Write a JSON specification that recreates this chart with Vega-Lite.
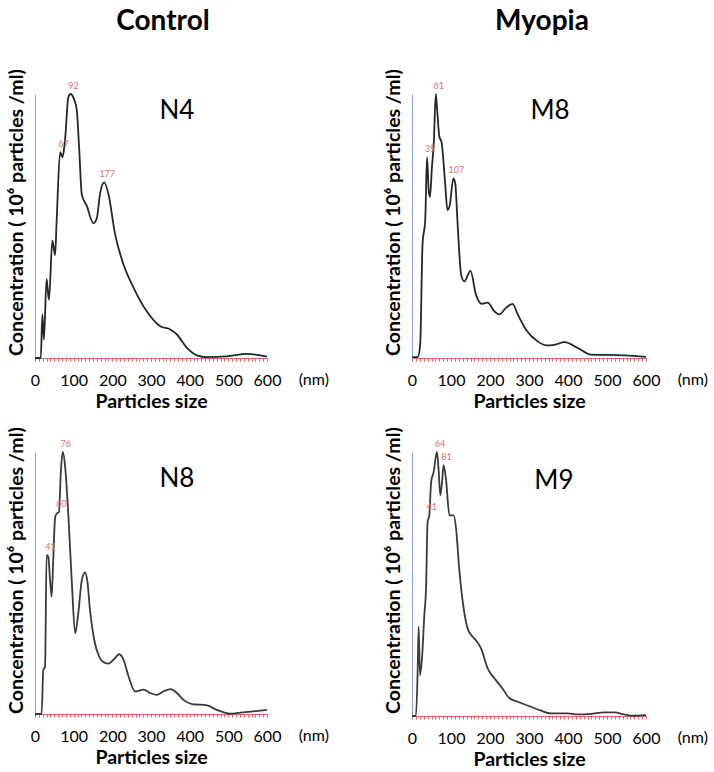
{
  "$schema": "https://vega.github.io/schema/vega-lite/v6.json",
  "padding": {"left": 5, "top": 7, "right": 2, "bottom": 2},
  "background": "white",
  "config": {
    "font": "Lato",
    "view": {"stroke": null},
    "axisX": {"labelFlush": false, "labelOverlap": false, "domainColor": "#e06464", "tickColor": "#e06464", "tickSize": 3, "tickWidth": 1, "grid": false, "labelFontSize": 16, "labelPadding": 11, "labelColor": "#000", "titleFontSize": 19.5, "titleFontWeight": "bold", "titlePadding": 4, "titleColor": "#000", "labelExpr": "datum.value % 100 === 0 ? datum.label : ''"},
    "axisY": {"labels": false, "ticks": false, "grid": false, "domainColor": "#8ea2e6", "titleFontSize": 19.5, "titleFontWeight": "bold", "titlePadding": 9, "titleColor": "#000", "titleY": 118},
    "title": {"fontSize": 28, "fontWeight": "bold", "color": "#000", "frame": "group", "anchor": "middle"}
  },
  "datasets": {
    "curves": [
      {"panel":"N4","size":0,"conc":0},{"panel":"N4","size":15,"conc":0},{"panel":"N4","size":19,"conc":16.5},{"panel":"N4","size":23,"conc":7},{"panel":"N4","size":30,"conc":30},{"panel":"N4","size":36,"conc":22},{"panel":"N4","size":45,"conc":44.5},{"panel":"N4","size":52,"conc":39},{"panel":"N4","size":56,"conc":52},{"panel":"N4","size":65,"conc":78},{"panel":"N4","size":71,"conc":76},{"panel":"N4","size":75,"conc":79},{"panel":"N4","size":79,"conc":85},{"panel":"N4","size":86,"conc":98.7},{"panel":"N4","size":92,"conc":100},{"panel":"N4","size":101,"conc":98},{"panel":"N4","size":108,"conc":94},{"panel":"N4","size":114,"conc":80},{"panel":"N4","size":121,"conc":62},{"panel":"N4","size":134,"conc":57.6},{"panel":"N4","size":151,"conc":51},{"panel":"N4","size":160,"conc":53},{"panel":"N4","size":168,"conc":62},{"panel":"N4","size":179,"conc":66.5},{"panel":"N4","size":190,"conc":62},{"panel":"N4","size":207,"conc":47},{"panel":"N4","size":229,"conc":35.4},{"panel":"N4","size":255,"conc":26.6},{"panel":"N4","size":289,"conc":17.7},{"panel":"N4","size":324,"conc":12},{"panel":"N4","size":350,"conc":10.8},{"panel":"N4","size":367,"conc":8.9},{"panel":"N4","size":393,"conc":3.8},{"panel":"N4","size":419,"conc":1},{"panel":"N4","size":445,"conc":0.3},{"panel":"N4","size":496,"conc":0.6},{"panel":"N4","size":548,"conc":1.6},{"panel":"N4","size":583,"conc":1},{"panel":"N4","size":600,"conc":0.5},
      {"panel":"M8","size":0,"conc":0.3},{"panel":"M8","size":14.5,"conc":0.3},{"panel":"M8","size":21,"conc":5},{"panel":"M8","size":27,"conc":43},{"panel":"M8","size":34,"conc":52.5},{"panel":"M8","size":38.5,"conc":76},{"panel":"M8","size":43,"conc":63},{"panel":"M8","size":46,"conc":61},{"panel":"M8","size":51,"conc":72},{"panel":"M8","size":56,"conc":82},{"panel":"M8","size":61,"conc":100},{"panel":"M8","size":64,"conc":95},{"panel":"M8","size":70,"conc":84},{"panel":"M8","size":76,"conc":81.6},{"panel":"M8","size":85,"conc":66},{"panel":"M8","size":91,"conc":56},{"panel":"M8","size":97,"conc":58},{"panel":"M8","size":106,"conc":68},{"panel":"M8","size":111,"conc":66},{"panel":"M8","size":117,"conc":50.6},{"panel":"M8","size":126,"conc":31.6},{"panel":"M8","size":134,"conc":29},{"panel":"M8","size":150,"conc":33},{"panel":"M8","size":164,"conc":24},{"panel":"M8","size":179,"conc":20.5},{"panel":"M8","size":194,"conc":21},{"panel":"M8","size":211,"conc":17.7},{"panel":"M8","size":224,"conc":16.5},{"panel":"M8","size":241,"conc":19},{"panel":"M8","size":258,"conc":20.5},{"panel":"M8","size":271,"conc":16.5},{"panel":"M8","size":292,"conc":10.8},{"panel":"M8","size":322,"conc":6.3},{"panel":"M8","size":344,"conc":4.8},{"panel":"M8","size":365,"conc":5},{"panel":"M8","size":391,"conc":6},{"panel":"M8","size":425,"conc":3.8},{"panel":"M8","size":459,"conc":1.3},{"panel":"M8","size":544,"conc":1},{"panel":"M8","size":600,"conc":0.4},
      {"panel":"N8","size":0,"conc":0},{"panel":"N8","size":17,"conc":0},{"panel":"N8","size":21.6,"conc":16.9},{"panel":"N8","size":26,"conc":18},{"panel":"N8","size":30,"conc":60.7},{"panel":"N8","size":34.5,"conc":60},{"panel":"N8","size":39,"conc":51},{"panel":"N8","size":43,"conc":44.8},{"panel":"N8","size":47.5,"conc":60},{"panel":"N8","size":52,"conc":75},{"panel":"N8","size":56,"conc":76.5},{"panel":"N8","size":62,"conc":77},{"panel":"N8","size":67,"conc":93},{"panel":"N8","size":72,"conc":100},{"panel":"N8","size":78,"conc":94.3},{"panel":"N8","size":86,"conc":76.5},{"panel":"N8","size":95,"conc":51},{"panel":"N8","size":104,"conc":30.8},{"panel":"N8","size":112,"conc":38.5},{"panel":"N8","size":121,"conc":51},{"panel":"N8","size":129.5,"conc":54},{"panel":"N8","size":136,"conc":50},{"panel":"N8","size":142,"conc":40},{"panel":"N8","size":148,"conc":33},{"panel":"N8","size":155,"conc":27},{"panel":"N8","size":163,"conc":23},{"panel":"N8","size":175,"conc":20},{"panel":"N8","size":190,"conc":19.2},{"panel":"N8","size":203,"conc":20.7},{"panel":"N8","size":218,"conc":22.8},{"panel":"N8","size":229,"conc":20.7},{"panel":"N8","size":242,"conc":14.3},{"panel":"N8","size":259,"conc":8.6},{"panel":"N8","size":281,"conc":9.3},{"panel":"N8","size":298,"conc":8},{"panel":"N8","size":315,"conc":7.3},{"panel":"N8","size":332,"conc":8.6},{"panel":"N8","size":351,"conc":9.5},{"panel":"N8","size":367,"conc":8},{"panel":"N8","size":384,"conc":5.4},{"panel":"N8","size":406,"conc":3.8},{"panel":"N8","size":445,"conc":3.3},{"panel":"N8","size":470,"conc":1.6},{"panel":"N8","size":505,"conc":0.1},{"panel":"N8","size":531,"conc":0.5},{"panel":"N8","size":565,"conc":1},{"panel":"N8","size":600,"conc":1.6},
      {"panel":"M9","size":0,"conc":0},{"panel":"M9","size":10,"conc":0},{"panel":"M9","size":14.5,"conc":16.8},{"panel":"M9","size":17,"conc":33.8},{"panel":"M9","size":20.5,"conc":15.5},{"panel":"M9","size":25.6,"conc":21.8},{"panel":"M9","size":31.6,"conc":38.2},{"panel":"M9","size":36,"conc":48.3},{"panel":"M9","size":40,"conc":73.5},{"panel":"M9","size":44.4,"conc":76},{"panel":"M9","size":49,"conc":88.6},{"panel":"M9","size":55.5,"conc":92.4},{"panel":"M9","size":64,"conc":100},{"panel":"M9","size":68,"conc":93.7},{"panel":"M9","size":72.6,"conc":83.6},{"panel":"M9","size":77,"conc":88.6},{"panel":"M9","size":81,"conc":95},{"panel":"M9","size":87,"conc":89.9},{"panel":"M9","size":96,"conc":76},{"panel":"M9","size":107,"conc":76},{"panel":"M9","size":113,"conc":71},{"panel":"M9","size":121,"conc":55.8},{"panel":"M9","size":132.5,"conc":40.7},{"panel":"M9","size":143,"conc":33},{"panel":"M9","size":155.6,"conc":30},{"panel":"M9","size":164,"conc":28.7},{"panel":"M9","size":177,"conc":25.6},{"panel":"M9","size":194,"conc":18},{"panel":"M9","size":215,"conc":13.6},{"panel":"M9","size":232,"conc":10.4},{"panel":"M9","size":250,"conc":6.7},{"panel":"M9","size":271,"conc":5.4},{"panel":"M9","size":305,"conc":3.5},{"panel":"M9","size":331,"conc":2},{"panel":"M9","size":356,"conc":1},{"panel":"M9","size":399,"conc":1},{"panel":"M9","size":425,"conc":0.6},{"panel":"M9","size":459,"conc":0.8},{"panel":"M9","size":493,"conc":1.4},{"panel":"M9","size":519,"conc":1.4},{"panel":"M9","size":544,"conc":0.6},{"panel":"M9","size":561,"conc":0.1},{"panel":"M9","size":600,"conc":0.3}
    ],
    "peaks": [
      {"panel":"N4","size":66,"conc":78,"label":"67"},{"panel":"N4","size":92,"conc":100,"label":"92"},{"panel":"N4","size":179,"conc":66.5,"label":"177"},
      {"panel":"M8","size":38.5,"conc":76,"label":"39"},{"panel":"M8","size":61,"conc":100,"label":"61"},{"panel":"M8","size":106,"conc":68,"label":"107"},
      {"panel":"N8","size":32,"conc":60.7,"label":"41"},{"panel":"N8","size":60,"conc":77,"label":"60"},{"panel":"N8","size":72,"conc":100,"label":"76"},
      {"panel":"M9","size":43,"conc":76,"label":"41"},{"panel":"M9","size":64,"conc":100,"label":"64"},{"panel":"M9","size":81,"conc":95,"label":"81"}
    ],
    "names": [
      {"panel":"N4","size":367,"conc":93.6,"label":"N4"},
      {"panel":"M8","size":354,"conc":93.6,"label":"M8"},
      {"panel":"N8","size":367,"conc":89.6,"label":"N8"},
      {"panel":"M9","size":364,"conc":89,"label":"M9"}
    ],
    "units": [
      {"panel":"N4","size":721,"conc":0,"label":"(nm)"},
      {"panel":"M8","size":720,"conc":0,"label":"(nm)"},
      {"panel":"N8","size":721,"conc":0,"label":"(nm)"},
      {"panel":"M9","size":720,"conc":0,"label":"(nm)"}
    ]
  },
  "spacing": 15,
  "vconcat": [
    {
      "spacing": 53,
      "hconcat": [
        {
          "width": 232, "height": 264,
          "title": {"text": "Control", "dx": 12, "offset": 33},
          "encoding": {
            "x": {"field": "size", "type": "quantitative", "scale": {"domain": [0, 600], "nice": false}, "axis": {"title": "Particles size", "values": [0,10,20,30,40,50,60,70,80,90,100,110,120,130,140,150,160,170,180,190,200,210,220,230,240,250,260,270,280,290,300,310,320,330,340,350,360,370,380,390,400,410,420,430,440,450,460,470,480,490,500,510,520,530,540,550,560,570,580,590,600]}},
            "y": {"field": "conc", "type": "quantitative", "scale": {"domain": [0, 100], "nice": false}, "axis": {"title": "Concentration ( 10⁶ particles /ml)"}}
          },
          "layer": [
            {"data": {"name": "curves"}, "transform": [{"filter": "datum.panel === 'N4'"}],
             "mark": {"type": "line", "color": "#262626", "strokeWidth": 1.8, "interpolate": "monotone"}},
            {"data": {"name": "peaks"}, "transform": [{"filter": "datum.panel === 'N4'"}],
             "mark": {"type": "text", "fontSize": 9, "color": "#e36c6c", "dy": -8, "dx": 3},
             "encoding": {"text": {"field": "label"}}},
            {"data": {"name": "names"}, "transform": [{"filter": "datum.panel === 'N4'"}],
             "mark": {"type": "text", "fontSize": 26, "color": "#000"},
             "encoding": {"text": {"field": "label"}}},
            {"data": {"name": "units"}, "transform": [{"filter": "datum.panel === 'N4'"}],
             "mark": {"type": "text", "fontSize": 16, "color": "#000", "dy": 22},
             "encoding": {"text": {"field": "label"}}}
          ]
        },
        {
          "width": 234, "height": 264,
          "title": {"text": "Myopia", "dx": 13, "offset": 33},
          "encoding": {
            "x": {"field": "size", "type": "quantitative", "scale": {"domain": [0, 600], "nice": false}, "axis": {"title": "Particles size", "values": [0,10,20,30,40,50,60,70,80,90,100,110,120,130,140,150,160,170,180,190,200,210,220,230,240,250,260,270,280,290,300,310,320,330,340,350,360,370,380,390,400,410,420,430,440,450,460,470,480,490,500,510,520,530,540,550,560,570,580,590,600]}},
            "y": {"field": "conc", "type": "quantitative", "scale": {"domain": [0, 100], "nice": false}, "axis": {"title": "Concentration ( 10⁶ particles /ml)"}}
          },
          "layer": [
            {"data": {"name": "curves"}, "transform": [{"filter": "datum.panel === 'M8'"}],
             "mark": {"type": "line", "color": "#262626", "strokeWidth": 1.8, "interpolate": "monotone"}},
            {"data": {"name": "peaks"}, "transform": [{"filter": "datum.panel === 'M8'"}],
             "mark": {"type": "text", "fontSize": 9, "color": "#e36c6c", "dy": -8, "dx": 3},
             "encoding": {"text": {"field": "label"}}},
            {"data": {"name": "names"}, "transform": [{"filter": "datum.panel === 'M8'"}],
             "mark": {"type": "text", "fontSize": 26, "color": "#000"},
             "encoding": {"text": {"field": "label"}}},
            {"data": {"name": "units"}, "transform": [{"filter": "datum.panel === 'M8'"}],
             "mark": {"type": "text", "fontSize": 16, "color": "#000", "dy": 22},
             "encoding": {"text": {"field": "label"}}}
          ]
        }
      ]
    },
    {
      "spacing": 53,
      "hconcat": [
        {
          "width": 232, "height": 262,
          "encoding": {
            "x": {"field": "size", "type": "quantitative", "scale": {"domain": [0, 600], "nice": false}, "axis": {"title": "Particles size", "values": [0,10,20,30,40,50,60,70,80,90,100,110,120,130,140,150,160,170,180,190,200,210,220,230,240,250,260,270,280,290,300,310,320,330,340,350,360,370,380,390,400,410,420,430,440,450,460,470,480,490,500,510,520,530,540,550,560,570,580,590,600]}},
            "y": {"field": "conc", "type": "quantitative", "scale": {"domain": [0, 100], "nice": false}, "axis": {"title": "Concentration ( 10⁶ particles /ml)"}}
          },
          "layer": [
            {"data": {"name": "curves"}, "transform": [{"filter": "datum.panel === 'N8'"}],
             "mark": {"type": "line", "color": "#3a3a3a", "strokeWidth": 1.8, "interpolate": "monotone"}},
            {"data": {"name": "peaks"}, "transform": [{"filter": "datum.panel === 'N8'"}],
             "mark": {"type": "text", "fontSize": 9, "color": "#e36c6c", "dy": -8, "dx": 3},
             "encoding": {"text": {"field": "label"}}},
            {"data": {"name": "names"}, "transform": [{"filter": "datum.panel === 'N8'"}],
             "mark": {"type": "text", "fontSize": 26, "color": "#000"},
             "encoding": {"text": {"field": "label"}}},
            {"data": {"name": "units"}, "transform": [{"filter": "datum.panel === 'N8'"}],
             "mark": {"type": "text", "fontSize": 16, "color": "#000", "dy": 22},
             "encoding": {"text": {"field": "label"}}}
          ]
        },
        {
          "width": 234, "height": 264,
          "encoding": {
            "x": {"field": "size", "type": "quantitative", "scale": {"domain": [0, 600], "nice": false}, "axis": {"title": "Particles size", "values": [0,10,20,30,40,50,60,70,80,90,100,110,120,130,140,150,160,170,180,190,200,210,220,230,240,250,260,270,280,290,300,310,320,330,340,350,360,370,380,390,400,410,420,430,440,450,460,470,480,490,500,510,520,530,540,550,560,570,580,590,600]}},
            "y": {"field": "conc", "type": "quantitative", "scale": {"domain": [0, 100], "nice": false}, "axis": {"title": "Concentration ( 10⁶ particles /ml)"}}
          },
          "layer": [
            {"data": {"name": "curves"}, "transform": [{"filter": "datum.panel === 'M9'"}],
             "mark": {"type": "line", "color": "#3a3a3a", "strokeWidth": 1.8, "interpolate": "monotone"}},
            {"data": {"name": "peaks"}, "transform": [{"filter": "datum.panel === 'M9'"}],
             "mark": {"type": "text", "fontSize": 9, "color": "#e36c6c", "dy": -8, "dx": 3},
             "encoding": {"text": {"field": "label"}}},
            {"data": {"name": "names"}, "transform": [{"filter": "datum.panel === 'M9'"}],
             "mark": {"type": "text", "fontSize": 26, "color": "#000"},
             "encoding": {"text": {"field": "label"}}},
            {"data": {"name": "units"}, "transform": [{"filter": "datum.panel === 'M9'"}],
             "mark": {"type": "text", "fontSize": 16, "color": "#000", "dy": 22},
             "encoding": {"text": {"field": "label"}}}
          ]
        }
      ]
    }
  ]
}
